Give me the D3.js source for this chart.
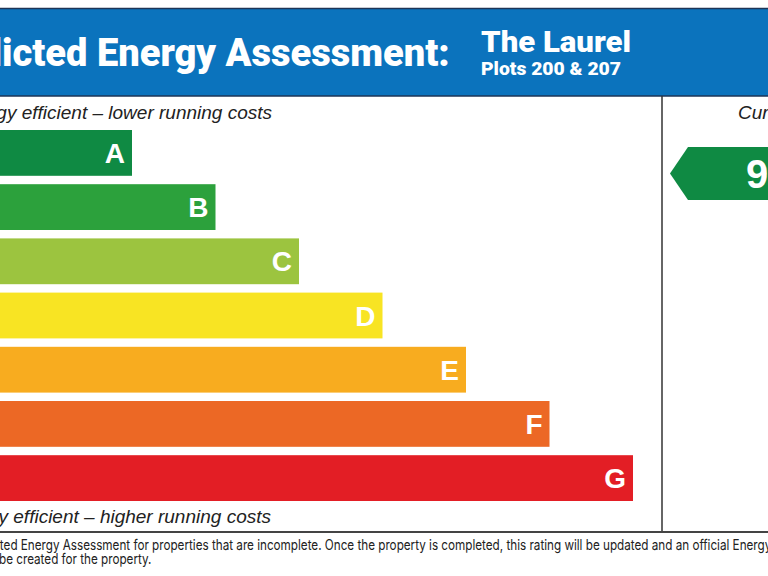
<!DOCTYPE html>
<html><head><meta charset="utf-8">
<script src="https://cdn.jsdelivr.net/npm/d3@7/dist/d3.min.js"></script>
<style>html,body{margin:0;padding:0;background:#fff;overflow:hidden}</style>
</head><body>
<svg id="c" width="768" height="576"></svg>
<script>
const ratings = ["A","B","C","D","E","F","G"];
const bandSteps = [1,2,3,4,5,6,7];
const bandColors = ["#0f8a43","#2ca13c","#9cc43f","#f8e423","#f8ac1f","#ec6825","#e31e25"];
const currentRating = "A";
const currentScore = "93";
const titleText = "Predicted Energy Assessment:";
const houseName = "The Laurel";
const plotsText = "Plots 200 & 207";
const topLabel = "Very energy efficient – lower running costs";
const bottomLabel = "Not energy efficient – higher running costs";
const currentLabel = "Current";
const footer1 = "This is a Predicted Energy Assessment for properties that are incomplete. Once the property is completed, this rating will be updated and an official Energy Performance Certificate will";
const footer2 = "be created for the property.";

const svg = d3.select("#c");
const W = 768, H = 576;

// header
svg.append("rect").attr("x",-5).attr("y",9).attr("width",W+10).attr("height",87).attr("fill","#0b73bd");
svg.append("line").attr("x1",0).attr("x2",W).attr("y1",8.5).attr("y2",8.5).attr("stroke","#1d3557").attr("stroke-width",1.5);
svg.append("line").attr("x1",0).attr("x2",W).attr("y1",96).attr("y2",96).attr("stroke","#1d3557").attr("stroke-width",1.5);

const title = svg.append("text").text(titleText)
  .attr("font-family","Roboto, 'DejaVu Sans', sans-serif").attr("font-weight",900)
  .attr("font-size",38).attr("fill","#fff");
{
  const n = title.node();
  const full = n.getComputedTextLength();
  const pre = n.getSubStringLength(0,4);
  const sx = 448/(full-pre);
  title.attr("transform",`translate(${450-full*sx},66) scale(${sx},1)`);
}
svg.append("text").text(houseName).attr("x",481).attr("y",52)
  .attr("font-family","Roboto, sans-serif").attr("font-weight",900).attr("font-size",30)
  .attr("fill","#fff").attr("textLength",150).attr("lengthAdjust","spacingAndGlyphs");
svg.append("text").text(plotsText).attr("x",481).attr("y",75)
  .attr("font-family","Roboto, sans-serif").attr("font-weight",900).attr("font-size",19)
  .attr("fill","#fff").attr("textLength",140).attr("lengthAdjust","spacingAndGlyphs");

// scales
const y = d3.scaleBand().domain(ratings).range([130,501]).paddingInner(0.155).paddingOuter(0);
const x = d3.scaleLinear().domain([1,7]).range([132,633]);

const bars = svg.append("g");
bars.selectAll("rect").data(ratings).join("rect")
  .attr("x",-80).attr("y",d=>y(d))
  .attr("width",(d,i)=>x(bandSteps[i])+80).attr("height",y.bandwidth())
  .attr("fill",(d,i)=>bandColors[i]);
bars.selectAll("text").data(ratings).join("text")
  .attr("x",(d,i)=>x(bandSteps[i])-7).attr("y",d=>y(d)+y.bandwidth()/2+10)
  .attr("text-anchor","end").attr("fill","#fff")
  .attr("font-family","'Liberation Sans', Arial, sans-serif").attr("font-weight",700).attr("font-size",28)
  .text(d=>d);

// labels
const ital = {"font-family":"'Liberation Sans', Arial, sans-serif","font-style":"italic","font-size":19,"fill":"#222"};
function applyAttrs(s,o){for(const k in o)s.attr(k,o[k]);return s;}
applyAttrs(svg.append("text").text(topLabel).attr("x",272).attr("y",119).attr("text-anchor","end"),ital);
applyAttrs(svg.append("text").text(bottomLabel).attr("x",271).attr("y",523).attr("text-anchor","end"),ital);
applyAttrs(svg.append("text").text(currentLabel).attr("x",738).attr("y",119),ital);

// frame lines
svg.append("line").attr("x1",662).attr("x2",662).attr("y1",96).attr("y2",532).attr("stroke","#333").attr("stroke-width",1.5);
svg.append("line").attr("x1",0).attr("x2",W).attr("y1",532).attr("y2",532).attr("stroke","#444").attr("stroke-width",1.8);

// current arrow
const ai = ratings.indexOf(currentRating);
const aTop = y(currentRating)+17, aH = 53, tipX = 670, bodyX = 688;
svg.append("path")
  .attr("d",`M${tipX},${aTop+aH/2} L${bodyX},${aTop} L${W+20},${aTop} L${W+20},${aTop+aH} L${bodyX},${aTop+aH} Z`)
  .attr("fill",bandColors[ai]);
svg.append("text").text(currentScore).attr("x",746).attr("y",aTop+aH/2+14)
  .attr("fill","#fff").attr("font-family","'Liberation Sans', Arial, sans-serif")
  .attr("font-weight",700).attr("font-size",40);

// footer
const f1 = svg.append("text").text(footer1).attr("font-family","Inter, 'Open Sans', sans-serif")
  .attr("font-size",14.5).attr("fill","#222");
{
  const n = f1.node();
  const iStart = footer1.indexOf("ted Energy");
  const iEnd = footer1.indexOf("Energy Performance")+5;
  const pre = n.getSubStringLength(0,iStart);
  const vis = n.getSubStringLength(iStart,iEnd-iStart);
  const sx = 766/vis;
  f1.attr("transform",`translate(${-pre*sx},550) scale(${sx},1)`);
  svg.append("text").text(footer2).attr("font-family","Inter, 'Open Sans', sans-serif")
    .attr("font-size",14.5).attr("fill","#222")
    .attr("transform",`translate(-1,564) scale(${sx},1)`);
}
</script>
</body></html>
